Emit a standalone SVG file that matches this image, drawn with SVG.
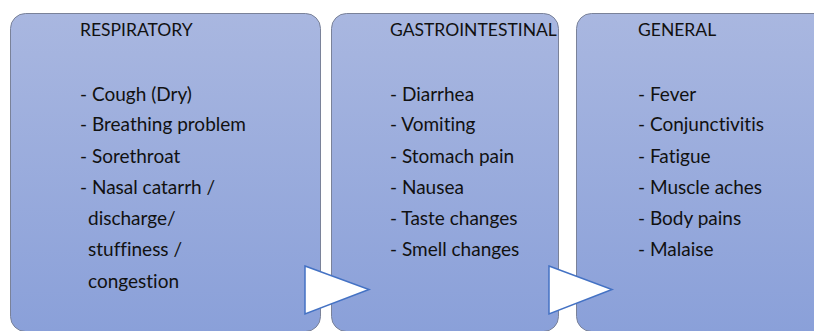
<svg xmlns="http://www.w3.org/2000/svg" width="814" height="331" viewBox="0 0 814 331">
<defs>
<linearGradient id="g" x1="0" y1="0" x2="0" y2="1">
<stop offset="0" stop-color="#A9B7E0"/>
<stop offset="1" stop-color="#8AA0D9"/>
</linearGradient>
<style>
.box{fill:url(#g);stroke:#7a8299;stroke-width:1}
.t{font-family:Lato,"Open Sans","Liberation Sans",sans-serif;font-size:19px;fill:#111;font-variant-ligatures:none;font-feature-settings:"liga" 0,"clig" 0}
.h{font-size:17.5px}
.arr{fill:#fff;stroke:#4472C4;stroke-width:1.5;stroke-linejoin:miter}
</style>
</defs>
<rect width="814" height="331" fill="#fff"/>
<g id="respiratory">
<rect class="box" x="10.5" y="13.5" width="310" height="318" rx="15"/>
<text class="t h" x="80" y="36">RESPIRATORY</text>
<text class="t" x="80" y="101">- Cough (Dry)</text>
<text class="t" x="80" y="131">- Breathing problem</text>
<text class="t" x="80" y="163">- Sorethroat</text>
<text class="t" x="80" y="194">- Nasal catarrh /</text>
<text class="t" x="88" y="225">discharge/</text>
<text class="t" x="88" y="256">stuffiness /</text>
<text class="t" x="88" y="288">congestion</text>
</g>
<g id="gastrointestinal">
<rect class="box" x="331.5" y="13.5" width="227" height="318" rx="15"/>
<text class="t h" x="390" y="36">GASTROINTESTINAL</text>
<text class="t" x="390" y="101">- Diarrhea</text>
<text class="t" x="390" y="131">- Vomiting</text>
<text class="t" x="390" y="163">- Stomach pain</text>
<text class="t" x="390" y="194">- Nausea</text>
<text class="t" x="390" y="225">- Taste changes</text>
<text class="t" x="390" y="256">- Smell changes</text>
</g>
<g id="general">
<rect class="box" x="576.5" y="13.5" width="260" height="318" rx="15"/>
<text class="t h" x="638" y="36">GENERAL</text>
<text class="t" x="638" y="101">- Fever</text>
<text class="t" x="638" y="131">- Conjunctivitis</text>
<text class="t" x="638" y="163">- Fatigue</text>
<text class="t" x="638" y="194">- Muscle aches</text>
<text class="t" x="638" y="225">- Body pains</text>
<text class="t" x="638" y="256">- Malaise</text>
</g>
<g id="connectors">
<polygon class="arr" points="305,266 369,289.5 305,314"/>
<polygon class="arr" points="549,266 612,289.5 549,314"/>
</g>
</svg>
